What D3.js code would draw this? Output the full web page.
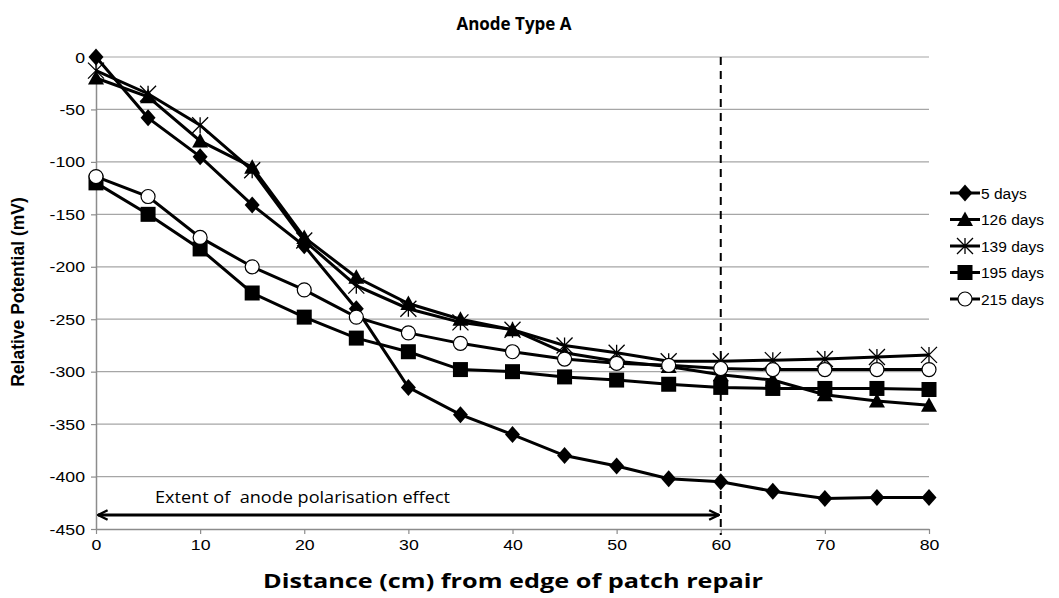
<!DOCTYPE html>
<html>
<head>
<meta charset="utf-8">
<script src="https://cdn.jsdelivr.net/npm/d3@7"></script>
<style>
  body { margin: 0; background: #fff; }
  svg { display: block; }
</style>
</head>
<body>
<div id="chart"></div>
<script>
// distance from patch edge (cm)
var distances = [0, 5, 10, 15, 20, 25, 30, 35, 40, 45, 50, 55, 60, 65, 70, 75, 80];

var seriesNames = ['5 days', '126 days', '139 days', '195 days', '215 days'];
var seriesShapes = ['diamond', 'triangle', 'star', 'square', 'circle'];

var days5   = [0, -58, -95, -141, -180, -240, -315, -341, -360, -380, -390, -402, -405, -414, -421, -420, -420];
var days126 = [-20, -38, -80, -105, -172, -210, -235, -250, -260, -282, -290, -295, -303, -308, -322, -328, -332];
var days139 = [-13, -35, -65, -108, -175, -218, -240, -253, -260, -275, -282, -290, -290, -289, -288, -286, -284];
var days195 = [-120, -150, -183, -225, -248, -268, -281, -298, -300, -305, -308, -312, -315, -316, -316, -316, -317];
var days215 = [-114, -133, -172, -200, -222, -248, -263, -273, -281, -288, -292, -294, -297, -298, -298, -298, -298];

var allSeries = [days5, days126, days139, days195, days215];

var xTicks = [0, 10, 20, 30, 40, 50, 60, 70, 80];
var yTicks = [0, -50, -100, -150, -200, -250, -300, -350, -400, -450];

var extentLimit = 60;

var W = 1059, H = 598;
var svg = d3.select('#chart').append('svg')
    .attr('width', W)
    .attr('height', H);

var x = d3.scaleLinear().domain([0, 80]).range([96, 929]);
var y = d3.scaleLinear().domain([0, -450]).range([57, 529]);

// gridlines
svg.append('g')
  .selectAll('line')
  .data(yTicks.slice(0, -1))
  .enter().append('line')
    .attr('x1', x(0)).attr('x2', x(80))
    .attr('y1', y).attr('y2', y)
    .attr('stroke', '#a6a6a6')
    .attr('stroke-width', 1.2);

// axes (plain hyphen for negatives, like the original)
var fmt = function(d) { return String(d); };
var xAxis = svg.append('g')
  .attr('transform', 'translate(0,' + y(-450) + ')')
  .call(d3.axisBottom(x).tickValues(xTicks).tickFormat(fmt).tickSize(5).tickSizeOuter(0).tickPadding(5));
var yAxis = svg.append('g')
  .attr('transform', 'translate(' + x(0) + ',0)')
  .call(d3.axisLeft(y).tickValues(yTicks).tickFormat(fmt).tickSize(5).tickSizeOuter(0).tickPadding(8));

[xAxis, yAxis].forEach(function(a) {
  a.select('.domain').attr('stroke', '#8c8c8c').attr('stroke-width', 1.5);
  a.selectAll('.tick line').attr('stroke', '#8c8c8c').attr('stroke-width', 1.2);
  a.selectAll('.tick text')
    .attr('fill', '#000')
    .attr('transform', 'scale(1.18,1)')
    .style('font-family', 'Liberation Sans, Arial, sans-serif')
    .style('font-size', '15px');
});
yAxis.selectAll('.tick text').attr('x', -11 / 1.18).attr('dy', '0.34em');
xAxis.selectAll('.tick text').attr('y', 10);
yAxis.selectAll('.tick line').attr('x1', -5).attr('x2', 0);

// dashed limit line
svg.append('line')
  .attr('x1', x(extentLimit)).attr('x2', x(extentLimit))
  .attr('y1', y(0)).attr('y2', y(-450) + 6)
  .attr('stroke', '#000')
  .attr('stroke-width', 2)
  .attr('stroke-dasharray', '8,6');

// marker shapes
function drawMarker(g, shape, cx, cy) {
  if (shape === 'diamond') {
    g.append('path')
      .attr('d', 'M' + cx + ',' + (cy - 8.5) + 'L' + (cx + 7.5) + ',' + cy + 'L' + cx + ',' + (cy + 8.5) + 'L' + (cx - 7.5) + ',' + cy + 'Z')
      .attr('fill', '#000');
  } else if (shape === 'triangle') {
    g.append('path')
      .attr('d', 'M' + cx + ',' + (cy - 8) + 'L' + (cx + 8) + ',' + (cy + 6.5) + 'L' + (cx - 8) + ',' + (cy + 6.5) + 'Z')
      .attr('fill', '#000');
  } else if (shape === 'square') {
    g.append('rect')
      .attr('x', cx - 7.5).attr('y', cy - 7.5)
      .attr('width', 15).attr('height', 15)
      .attr('fill', '#000');
  } else if (shape === 'circle') {
    g.append('circle')
      .attr('cx', cx).attr('cy', cy).attr('r', 7)
      .attr('fill', '#fff')
      .attr('stroke', '#000')
      .attr('stroke-width', 1.2);
  } else if (shape === 'star') {
    var r = 8;
    var p = 'M' + (cx - r) + ',' + (cy - r) + 'L' + (cx + r) + ',' + (cy + r) +
            'M' + (cx - r) + ',' + (cy + r) + 'L' + (cx + r) + ',' + (cy - r) +
            'M' + cx + ',' + (cy - r) + 'L' + cx + ',' + (cy + r);
    g.append('path').attr('d', p).attr('stroke', '#000').attr('stroke-width', 1.3).attr('fill', 'none');
  }
}

var line = d3.line()
  .x(function(d, i) { return x(distances[i]); })
  .y(function(d) { return y(d); });

// draw each series (lines then markers)
allSeries.forEach(function(vals, k) {
  var g = svg.append('g');
  g.append('path')
    .datum(vals)
    .attr('d', line)
    .attr('fill', 'none')
    .attr('stroke', '#000')
    .attr('stroke-width', 3);
  vals.forEach(function(v, i) {
    drawMarker(g, seriesShapes[k], x(distances[i]), y(v));
  });
});

// arrow for the extent of polarisation
var defs = svg.append('defs');
defs.append('marker')
  .attr('id', 'arrowEnd')
  .attr('viewBox', '0 0 10 10')
  .attr('refX', 9).attr('refY', 5)
  .attr('markerWidth', 4).attr('markerHeight', 4)
  .attr('orient', 'auto-start-reverse')
  .attr('markerUnits', 'strokeWidth')
  .append('path')
    .attr('d', 'M1,1 L9,5 L1,9')
    .attr('fill', 'none')
    .attr('stroke', '#000')
    .attr('stroke-width', 2);

svg.append('line')
  .attr('x1', x(0) + 2).attr('x2', x(extentLimit) - 2)
  .attr('y1', 515).attr('y2', 515)
  .attr('stroke', '#000')
  .attr('stroke-width', 3)
  .attr('marker-start', 'url(#arrowEnd)')
  .attr('marker-end', 'url(#arrowEnd)');

svg.append('text')
  .attr('x', 155).attr('y', 503)
  .style('font-family', 'Open Sans, sans-serif')
  .style('font-size', '16px')
  .attr('textLength', 295)
  .attr('lengthAdjust', 'spacingAndGlyphs')
  .attr('xml:space', 'preserve')
  .text('Extent of  anode polarisation effect');

// titles
svg.append('text')
  .attr('x', 514).attr('y', 30)
  .attr('text-anchor', 'middle')
  .style('font-family', 'Open Sans, sans-serif')
  .style('font-weight', 'bold')
  .style('font-size', '17px')
  .text('Anode Type A');

svg.append('text')
  .attr('x', 513).attr('y', 588)
  .attr('text-anchor', 'middle')
  .style('font-family', 'Open Sans, sans-serif')
  .style('font-weight', 'bold')
  .style('font-size', '19px')
  .attr('textLength', 500)
  .attr('lengthAdjust', 'spacingAndGlyphs')
  .text('Distance (cm) from edge of patch repair');

svg.append('text')
  .attr('transform', 'translate(24,' + 292 + ') rotate(-90)')
  .attr('text-anchor', 'middle')
  .style('font-family', 'Liberation Sans, Arial, sans-serif')
  .style('font-weight', 'bold')
  .style('font-size', '17.5px')
  .text('Relative Potential (mV)');

// legend
var legend = svg.append('g');
seriesNames.forEach(function(name, k) {
  var ly = 193 + k * 26.5;
  var lg = legend.append('g');
  lg.append('line')
    .attr('x1', 950).attr('x2', 980)
    .attr('y1', ly).attr('y2', ly)
    .attr('stroke', '#000').attr('stroke-width', 3);
  drawMarker(lg, seriesShapes[k], 965, ly);
  lg.append('text')
    .attr('x', 981).attr('y', ly + 5.5)
    .style('font-family', 'Liberation Sans, Arial, sans-serif')
    .style('font-size', '15.5px')
    .text(name);
});
</script>
</body>
</html>
